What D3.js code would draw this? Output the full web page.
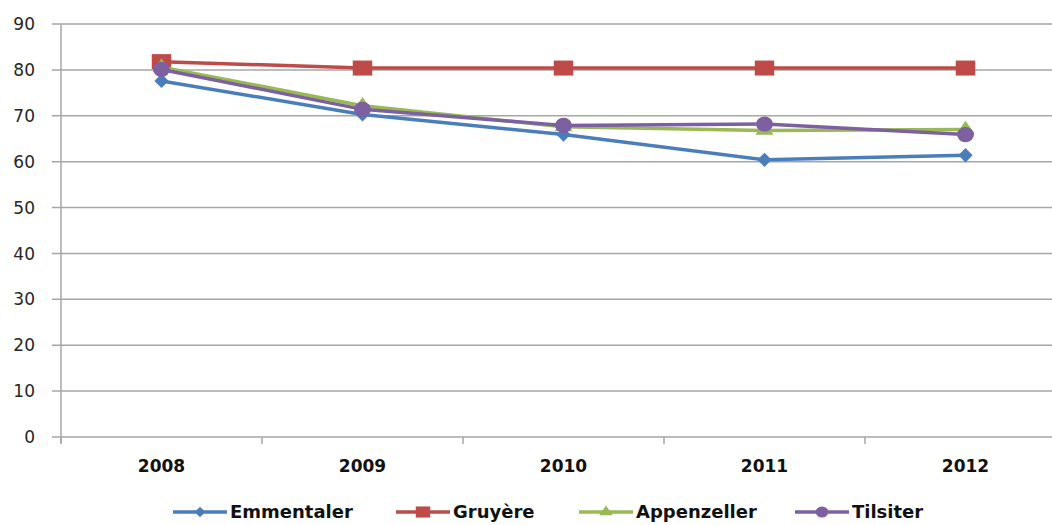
<!DOCTYPE html>
<html><head><meta charset="utf-8">
<script src="https://cdn.jsdelivr.net/npm/d3@7"></script>
<style>body{margin:0;background:#fff;}svg{display:block;}</style>
</head><body>
<svg id="c" width="1052" height="525"></svg>
<script>
const years = ["2008","2009","2010","2011","2012"];
const emmentaler = [77.6, 70.3, 65.9, 60.4, 61.4];
const gruyere = [81.8, 80.4, 80.4, 80.4, 80.4];
const appenzeller = [80.6, 72.2, 67.6, 66.8, 67.0];
const tilsiter = [80.1, 71.4, 67.9, 68.2, 65.9];
const seriesNames = ["Emmentaler","Gruyère","Appenzeller","Tilsiter"];
const yTicks = [0,10,20,30,40,50,60,70,80,90];

const series = [
  {name: seriesNames[0], values: emmentaler, color: "#4A7EBB", sym: d3.symbolDiamond2, size: 130, sx: 1.0},
  {name: seriesNames[1], values: gruyere, color: "#BE4B48", sym: d3.symbolSquare, size: 225, sx: 1.3},
  {name: seriesNames[2], values: appenzeller, color: "#98B954", sym: d3.symbolTriangle, size: 100, sx: 1.2},
  {name: seriesNames[3], values: tilsiter, color: "#7D60A0", sym: d3.symbolCircle, size: 180, sx: 1.12}
];

const FONT = "DejaVu Sans, sans-serif";
const svg = d3.select("#c");
const mLeft = 61, mTop = 24, mBottom = 437, mRight = 1066;
const x = d3.scaleBand().domain(years).range([mLeft, mRight]);
const y = d3.scaleLinear().domain([0, 90]).range([mBottom, mTop]);

// gridlines
svg.append("g").selectAll("line").data(yTicks).join("line")
  .attr("x1", mLeft - 9).attr("x2", 1052)
  .attr("y1", d => y(d)).attr("y2", d => y(d))
  .attr("stroke", "#a6a6a6").attr("stroke-width", 1.5);

// y axis line
svg.append("line").attr("x1", mLeft).attr("x2", mLeft).attr("y1", mTop).attr("y2", mBottom + 6)
  .attr("stroke", "#a6a6a6").attr("stroke-width", 1.5);

// y labels
svg.append("g").selectAll("text").data(yTicks).join("text")
  .attr("x", 35).attr("y", d => y(d)).attr("dy", "0.36em")
  .attr("text-anchor", "end")
  .attr("font-family", FONT).attr("font-size", 17).attr("fill", "#262626")
  .text(d => d);

// x tick marks at band boundaries
const bounds = years.map(d => x(d));
svg.append("g").selectAll("line").data(bounds).join("line")
  .attr("x1", d => d).attr("x2", d => d).attr("y1", mBottom).attr("y2", mBottom + 7)
  .attr("stroke", "#a6a6a6").attr("stroke-width", 1.5);

// x labels
svg.append("g").selectAll("text").data(years).join("text")
  .attr("x", d => x(d) + x.bandwidth() / 2).attr("y", 472)
  .attr("text-anchor", "middle")
  .attr("font-family", FONT).attr("font-weight", "bold")
  .attr("font-size", 17).attr("fill", "#111")
  .text(d => d);

const line = d3.line().x((d, i) => x(years[i]) + x.bandwidth() / 2).y(d => y(d));

series.forEach(s => {
  const g = svg.append("g");
  g.append("path").attr("d", line(s.values)).attr("fill", "none")
    .attr("stroke", s.color).attr("stroke-width", 3.5).attr("stroke-linejoin", "round");
  g.selectAll("path.m").data(s.values).join("path").attr("class", "m")
    .attr("transform", (d, i) => `translate(${x(years[i]) + x.bandwidth() / 2},${y(d)}) scale(${s.sx},1)`)
    .attr("d", d3.symbol().type(s.sym).size(s.size))
    .attr("fill", s.color);
});

// legend
const legendX = [173, 396, 579, 795];
series.forEach((s, i) => {
  const g = svg.append("g").attr("transform", `translate(${legendX[i]},512)`);
  g.append("line").attr("x1", 0).attr("x2", 54).attr("stroke", s.color).attr("stroke-width", 3.5);
  g.append("path").attr("transform", `translate(27,0) scale(${s.sx},1)`)
    .attr("d", d3.symbol().type(s.sym).size(s.size * 0.55)).attr("fill", s.color);
  g.append("text").attr("x", 57).attr("dy", "0.35em")
    .attr("font-family", FONT).attr("font-weight", "bold")
    .attr("font-size", 18).attr("fill", "#111").text(s.name);
});
</script>
</body></html>
